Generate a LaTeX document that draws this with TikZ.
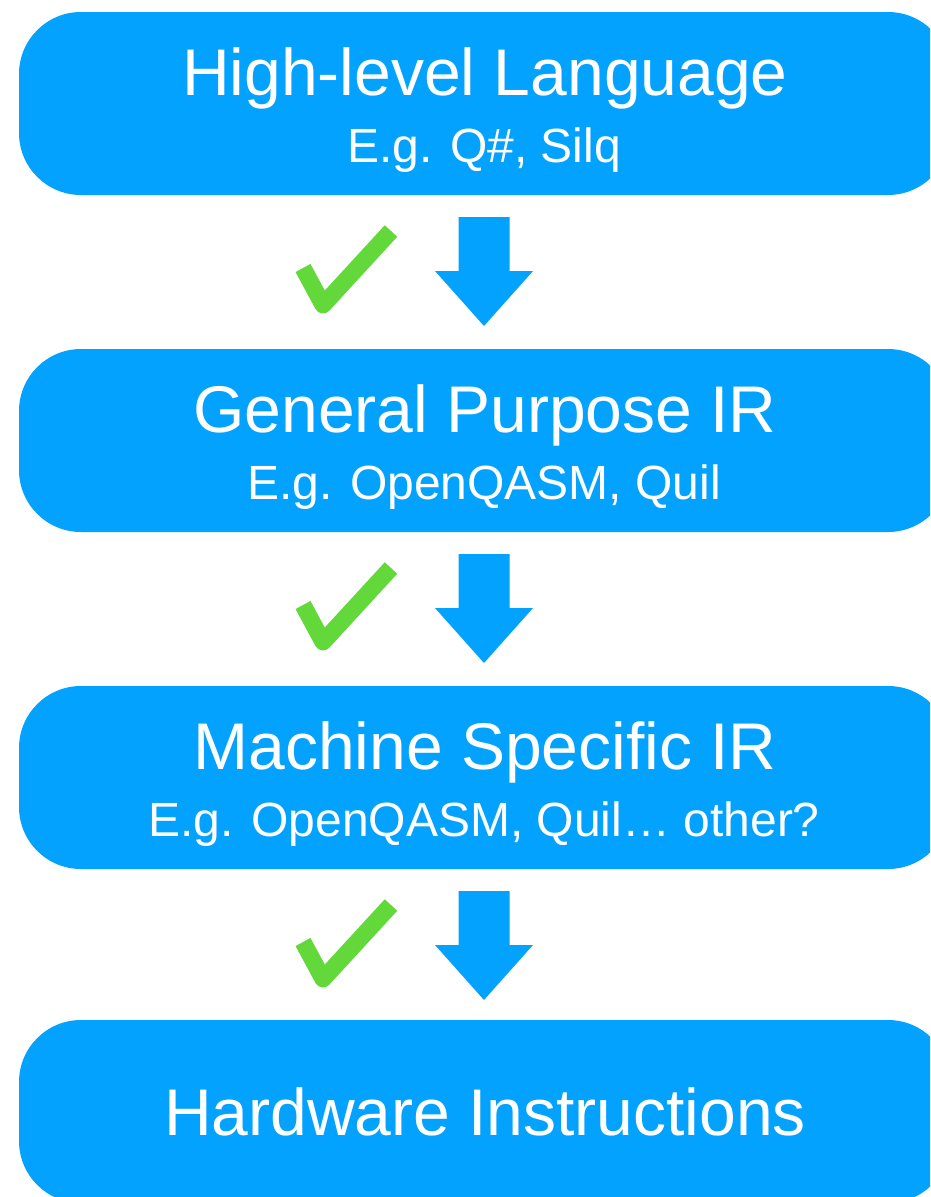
\documentclass[tikz,border=0pt]{standalone}
\usepackage{fontspec}
\setmainfont{Liberation Sans}
\usetikzlibrary{calc}
\definecolor{boxblue}{RGB}{3,162,255}
\definecolor{checkgreen}{RGB}{99,216,58}
\tikzset{
  x=1pt, y=-1pt,
  stagebox/.style={fill=boxblue, draw=none, rounded corners=62pt, minimum width=931pt, minimum height=183pt, inner sep=0pt, outer sep=0pt},
  titletext/.style={anchor=base, text=white, inner sep=0pt, font=\fontsize{66}{79}\selectfont},
  subtext/.style={anchor=base, text=white, inner sep=0pt, font=\fontsize{48}{58}\selectfont},
  checkstroke/.style={draw=checkgreen, line width=17pt, line cap=butt, line join=round},
}
\newcommand{\blockarrow}[1]{% #1 = coordinate of shaft top centre
  \fill[boxblue] ($(#1)+(-25.5,0)$) -- ($(#1)+(25.5,0)$) -- ($(#1)+(25.5,54)$) -- ($(#1)+(49,54)$)
    -- ($(#1)+(0,109)$) -- ($(#1)+(-49,54)$) -- ($(#1)+(-25.5,54)$) -- cycle;}
\newcommand{\checkmk}[1]{% #1 = coordinate of the vertex
  \draw[checkstroke] ($(#1)+(-20,-37)$) -- (#1) -- ($(#1)+(68,-74)$);}
\begin{document}
\begin{tikzpicture}
\useasboundingbox (0,0) rectangle (930,1197);
\clip (0,0) rectangle (930,1197);
% boxes
\node[stagebox] (b1) at (484.5,103.5) {};
\node[stagebox] (b2) at (484.5,440.5) {};
\node[stagebox] (b3) at (484.5,777.5) {};
\node[stagebox] (b4) at (484.5,1111.5) {};
% texts
\node[titletext] (t1) at (485,95) {High-level Language};
\node[subtext] (s1) at (484,162) {E.g. Q\#, Silq};
\node[titletext] (t2) at (485,432) {General Purpose IR};
\node[subtext] (s2) at (484,499) {E.g. OpenQASM, Quil};
\node[titletext] (t3) at (485,769) {Machine Specific IR};
\node[subtext] (s3) at (484,836) {E.g. OpenQASM, Quil… other?};
\node[titletext] (t4) at (485,1135) {Hardware Instructions};
% arrows
\coordinate (a1) at (484,217);
\coordinate (a2) at (484,554);
\coordinate (a3) at (484,891);
\blockarrow{a1}
\blockarrow{a2}
\blockarrow{a3}
% check marks
\coordinate (c1) at (323,305);
\coordinate (c2) at (323,642);
\coordinate (c3) at (323,979);
\checkmk{c1}
\checkmk{c2}
\checkmk{c3}
\end{tikzpicture}
\end{document}
